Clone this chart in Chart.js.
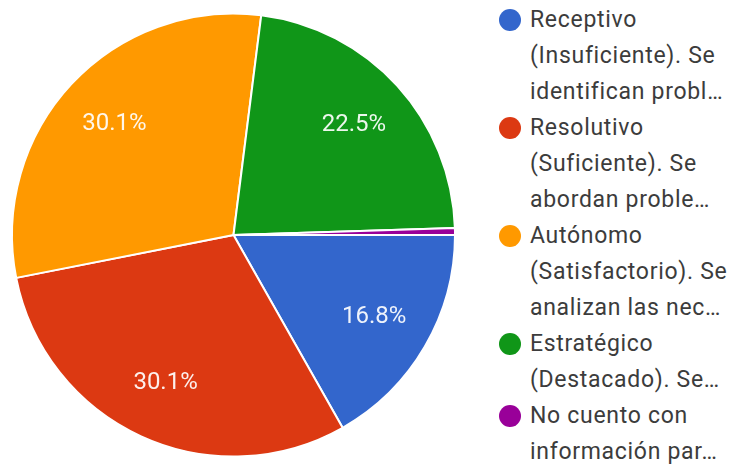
<!DOCTYPE html>
<html>
<head>
<meta charset="utf-8">
<script src="https://cdn.jsdelivr.net/npm/chart.js@4/dist/chart.umd.min.js"></script>
<style>
  body { margin: 0; background: #fff; width: 731px; height: 467px; overflow: hidden; font-family: Roboto, "Noto Sans", sans-serif; }
  #wrap { position: absolute; left: 0; top: 0; width: 456px; height: 467px; }
  #legend { position: absolute; left: 499px; top: 2px; }
  .item { display: flex; align-items: flex-start; }
  .dot { width: 22px; height: 22px; border-radius: 50%; margin-top: 7px; margin-right: 9px; flex: none; }
  .txt { font-size: 23px; line-height: 36px; letter-spacing: 0.7px; color: #3c3c3c; white-space: nowrap; }
</style>
</head>
<body>
<div id="wrap"><canvas id="pie"></canvas></div>
<div id="legend"></div>
<script>
const categories = [
  ['Receptivo', '(Insuficiente). Se', 'identifican probl…'],
  ['Resolutivo', '(Suficiente). Se', 'abordan proble…'],
  ['Autónomo', '(Satisfactorio). Se', 'analizan las nec…'],
  ['Estratégico', '(Destacado). Se…'],
  ['No cuento con', 'información par…']
];
const percents = [16.8, 30.1, 30.1, 22.5, 0.5];
const colors = ['#3366cc', '#dc3912', '#ff9900', '#109618', '#990099'];

// percentage labels inside the slices
const sliceLabels = {
  id: 'sliceLabels',
  afterDatasetsDraw(chart) {
    const ctx = chart.ctx;
    const meta = chart.getDatasetMeta(0);
    ctx.save();
    ctx.font = '24px Roboto, sans-serif';
    ctx.fillStyle = 'rgba(255,255,255,0.92)';
    ctx.textAlign = 'center';
    ctx.textBaseline = 'middle';
    meta.data.forEach((arc, i) => {
      const v = percents[i];
      if (v < 5) return;
      const mid = (arc.startAngle + arc.endAngle) / 2;
      const r = arc.outerRadius * 0.735;
      ctx.fillText(v.toFixed(1) + '%', arc.x + Math.cos(mid) * r, arc.y + Math.sin(mid) * r);
    });
    ctx.restore();
  }
};

new Chart(document.getElementById('pie'), {
  type: 'pie',
  data: {
    labels: categories.map(c => c.join(' ')),
    datasets: [{
      data: percents,
      backgroundColor: colors,
      borderColor: '#ffffff',
      borderWidth: 2
    }]
  },
  options: {
    responsive: true,
    maintainAspectRatio: false,
    animation: false,
    rotation: 90,
    layout: { padding: { top: 12, bottom: 9, left: 11, right: 0 } },
    plugins: {
      legend: { display: false },
      tooltip: { enabled: false }
    }
  },
  plugins: [sliceLabels]
});

const legend = document.getElementById('legend');
categories.forEach((lines, i) => {
  const item = document.createElement('div');
  item.className = 'item';
  item.innerHTML = `<span class="dot" style="background:${colors[i]}"></span><span class="txt">${lines.join('<br>')}</span>`;
  legend.appendChild(item);
});
</script>
</body>
</html>
